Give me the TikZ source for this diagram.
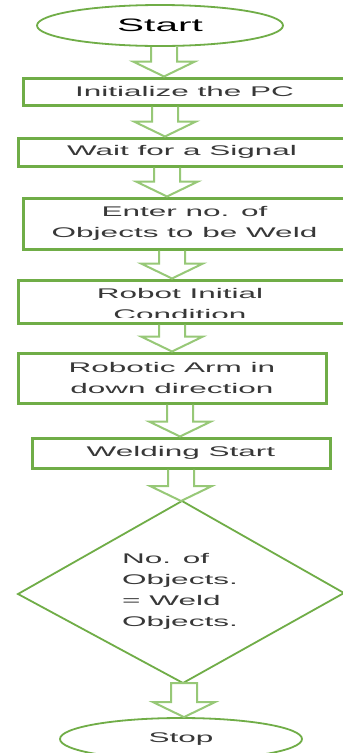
\documentclass[tikz,border=0pt]{standalone}
\usepackage{fontspec}
\setmainfont{Liberation Sans}
\newfontfamily\wf[FakeStretch=2.25]{Liberation Sans}
\usetikzlibrary{calc,shapes.geometric}
\definecolor{gborder}{HTML}{70AD47}
\definecolor{garrow}{HTML}{97C877}
\definecolor{txtc}{HTML}{383838}
\tikzset{
  box/.style={draw=gborder, line width=3pt, rectangle, inner sep=0pt, align=center,
    text=txtc, font=\wf\fontsize{14}{21}\selectfont},
  oval/.style={draw=gborder, line width=1.8pt, ellipse, inner sep=0pt,
    text=txtc, font=\wf\fontsize{14}{21}\selectfont},
  lbl/.style={inner sep=0pt, text=txtc, font=\wf\fontsize{14}{21}\selectfont},
  barrowst/.style={draw=garrow, line width=2pt, line join=miter},
  diam/.style={draw=gborder, line width=1.8pt, line join=miter}
}
\newcommand\blockarr[3]{%
  \path let \p1=#2, \p2=#3 in (#1pt,\y1) coordinate (ta) (#1pt,\y2) coordinate (tb);
  \draw[barrowst] ($(ta)+(-13,0)$) -- ($(tb)+(-13,-15)$) -- ($(tb)+(-31,-15)$) -- (tb)
    -- ($(tb)+(31,-15)$) -- ($(tb)+(13,-15)$) -- ($(ta)+(13,0)$);}
\newcommand\blockarrc[3]{%
  \path let \p1=#2, \p2=#3 in (#1pt,\y1) coordinate (ta) (#1pt,\y2) coordinate (tb);
  \draw[barrowst] ($(ta)+(-13,0)$) -- ($(tb)+(-13,-15)$) -- ($(tb)+(-31,-15)$) -- (tb)
    -- ($(tb)+(31,-15)$) -- ($(tb)+(13,-15)$) -- ($(ta)+(13,0)$) -- cycle;}
\begin{document}
\begin{tikzpicture}[x=1pt,y=-1pt]
\useasboundingbox (0,0) rectangle (343,753);
\fill[white] (0,0) rectangle (343,753);
\clip (0,0) rectangle (343,753);

\node[oval, minimum width=246pt, minimum height=41pt, text=black,
  font=\wf\fontsize{18}{21}\selectfont] (start) at (160,25.5) {Start};
\node[box, minimum width=323pt, minimum height=27pt] (b1) at (184.5,91.5) {Initialize the PC};
\node[box, minimum width=328pt, minimum height=28pt] (b2) at (182,152) {Wait for a Signal};
\node[box, minimum width=323pt, minimum height=51pt] (b3) at (184.5,223.5) {Enter no. of\\Objects to be Weld};
\node[box, minimum width=328pt, minimum height=43pt] (b4) at (182,301.5) {};
\begin{scope}
  \clip (20,282) rectangle (343,317);
  \node[lbl, align=center] (b4t) at (180,303.5) {Robot Initial\\Condition};
\end{scope}
\node[box, minimum width=308pt, minimum height=50pt] (b5) at (172,378) {Robotic Arm in\\down direction};
\node[box, minimum width=298pt, minimum height=30pt] (b6) at (181,453) {Welding Start};

\coordinate (dtop) at (182,501);
\coordinate (dleft) at (18,594);
\coordinate (dright) at (344,593);
\coordinate (dbot) at (183,683);
\draw[diam] (dtop) -- (dright) -- (dbot) -- (dleft) -- cycle;
\node[lbl, align=left] (dtext) at (180,591) {No. of\\Objects.\\= Weld\\Objects.};

\node[oval, minimum width=242pt, minimum height=42pt] (stop) at (181,739) {Stop};

\blockarr{164}{(start.south)}{(b1.north)}
\blockarr{165}{(b2.north |- b1.south)}{(b2.north)}
\blockarr{167}{(b2.south)}{(b3.north)}
\blockarr{172}{(b3.south)}{(b4.north)}
\blockarr{172}{(b4.south)}{(b5.north)}
\blockarr{180}{(b5.south)}{(b6.north)}
\blockarr{181}{(b6.south)}{(dtop)}
\blockarrc{184}{(dbot)}{(stop.north)}
\end{tikzpicture}
\end{document}
